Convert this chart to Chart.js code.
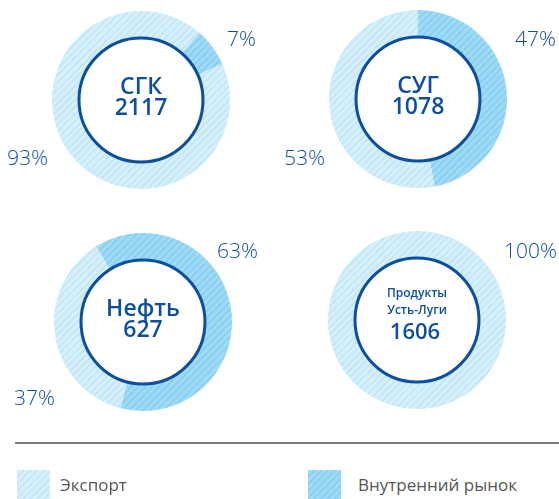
<!DOCTYPE html>
<html>
<head>
<meta charset="utf-8">
<script src="https://cdn.jsdelivr.net/npm/chart.js@4"></script>
<style>
  body { margin: 0; width: 559px; height: 499px; background: #fff; position: relative; overflow: hidden; font-family: "Open Sans", "Noto Sans", sans-serif; }
  canvas.donut { position: absolute; }
  .pct { position: absolute; font-size: 21px; font-weight: 300; line-height: 22px; color: #0e4f9c; white-space: nowrap; }
  .rule { position: absolute; left: 15px; top: 442px; width: 544px; height: 2px; background: #7a7a7a; }
  .swatch { position: absolute; top: 470px; width: 33px; height: 29px; }
  .legend-text { position: absolute; top: 474px; font-size: 17px; line-height: 22px; color: #555; white-space: nowrap; }
</style>
</head>
<body>

<canvas class="donut" id="d0" width="178" height="178" style="left:52px;top:11px"></canvas>
<canvas class="donut" id="d1" width="178" height="178" style="left:329px;top:10px"></canvas>
<canvas class="donut" id="d2" width="178" height="178" style="left:54px;top:233px"></canvas>
<canvas class="donut" id="d3" width="178" height="178" style="left:328px;top:231px"></canvas>

<div class="pct" style="left:227px;top:27px">7%</div>
<div class="pct" style="left:7px;top:146px">93%</div>
<div class="pct" style="left:515px;top:27px">47%</div>
<div class="pct" style="left:284px;top:146px">53%</div>
<div class="pct" style="left:217px;top:239px">63%</div>
<div class="pct" style="left:14px;top:386px">37%</div>
<div class="pct" style="left:504px;top:239px">100%</div>

<div class="rule"></div>
<canvas class="swatch" id="sw0" width="33" height="29" style="left:17px"></canvas>
<div class="legend-text" style="left:60px">Экспорт</div>
<canvas class="swatch" id="sw1" width="34" height="29" style="left:308px"></canvas>
<div class="legend-text" style="left:358px">Внутренний рынок</div>

<script>
// --- данные ---
const categories = ['Внутренний рынок', 'Экспорт'];
const products = ['СГК', 'СУГ', 'Нефть', 'Продукты Усть-Луги'];
const volumes = [2117, 1078, 627, 1606];
const domesticShare = [7, 47, 63, 0];
const exportShare = [93, 53, 37, 100];
const rotations = [41, 0, -32, 0];

const darkBlue = '#0b4f9e';

// штриховка "/" для сегментов
function makePattern(base, stripe) {
    const size = 7;
    const c = document.createElement('canvas');
    c.width = size;
    c.height = size;
    const ctx = c.getContext('2d');
    ctx.fillStyle = base;
    ctx.fillRect(0, 0, size, size);
    ctx.strokeStyle = stripe;
    ctx.lineWidth = 1.3;
    ctx.beginPath();
    ctx.moveTo(-1, size + 1); ctx.lineTo(size + 1, -1);
    ctx.moveTo(-1, 1); ctx.lineTo(1, -1);
    ctx.moveTo(size - 1, size + 1); ctx.lineTo(size + 1, size - 1);
    ctx.stroke();
    return ctx.createPattern(c, 'repeat');
}

const exportFill = makePattern('#d5effb', '#bfe2f5');
const domesticFill = makePattern('#9ddbf7', '#86cbef');

// белый круг с рамкой и подпись в центре
const centerPlugin = {
    id: 'centerLabel',
    afterDraw(chart, args, opts) {
        const arc = chart.getDatasetMeta(0).data[0];
        const ctx = chart.ctx;
        const x = arc.x, y = arc.y;
        ctx.save();
        ctx.beginPath();
        ctx.arc(x, y, 62, 0, Math.PI * 2);
        ctx.fillStyle = '#fff';
        ctx.fill();
        ctx.lineWidth = 3;
        ctx.strokeStyle = darkBlue;
        ctx.stroke();

        ctx.fillStyle = darkBlue;
        ctx.textAlign = 'center';
        ctx.textBaseline = 'middle';
        if (opts.small) {
            ctx.font = '600 12px "Open Sans", sans-serif';
            const words = opts.title.split(' ');
            ctx.fillText(words[0], x, y - 26);
            ctx.fillText(words[1], x, y - 9);
            ctx.font = '600 22px "Open Sans", sans-serif';
            ctx.fillText(String(opts.value), x - 2, y + 13);
        } else {
            ctx.font = '600 23px "Open Sans", sans-serif';
            ctx.fillText(opts.title, x, y - 13);
            ctx.fillText(String(opts.value), x, y + 8);
        }
        ctx.restore();
    }
};

products.forEach((name, i) => {
    new Chart(document.getElementById('d' + i), {
        type: 'doughnut',
        data: {
            labels: categories,
            datasets: [{
                data: [domesticShare[i], exportShare[i]],
                backgroundColor: [domesticFill, exportFill],
                borderWidth: 0,
                hoverOffset: 0
            }]
        },
        options: {
            responsive: false,
            animation: false,
            cutout: 62,
            rotation: rotations[i],
            layout: { padding: 0 },
            plugins: {
                legend: { display: false },
                tooltip: { enabled: false },
                centerLabel: { title: name, value: volumes[i], small: i === 3 }
            }
        },
        plugins: [centerPlugin]
    });
});

// образцы легенды
[exportFill, domesticFill].forEach((fill, i) => {
    const sw = document.getElementById('sw' + i);
    const ctx = sw.getContext('2d');
    ctx.fillStyle = fill;
    ctx.fillRect(0, 0, sw.width, sw.height);
});
</script>
</body>
</html>
